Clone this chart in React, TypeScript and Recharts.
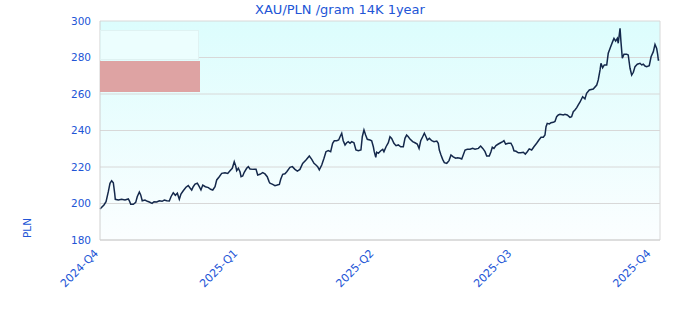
import { LineChart, Line, XAxis, YAxis, CartesianGrid, ReferenceLine } from "recharts";

// days since 2024-10-01
const days = [
  0, 2.6, 4.0, 5.5, 6.6, 7.7, 8.8, 9.7, 10.1, 12.1,
  14.3, 16.5, 18.7, 19.4, 20.3, 22.0, 23.6, 24.6, 26.0, 26.9,
  27.9, 29.7, 31.3, 32.6, 34.4, 35.7, 37.5, 39.2, 41.0, 42.5,
  44.1, 45.8, 46.9, 48.4, 49.8, 51.1, 52.4, 53.5, 55.0, 56.8,
  58.3, 59.5, 60.6, 61.6, 62.8, 64.3, 65.6, 66.7, 67.9, 69.6,
  71.6, 73.1, 74.5, 76.0, 77.1, 78.8, 80.4, 82.6, 84.4, 85.9,
  87.4, 88.7, 89.7, 90.3, 91.4, 92.5, 93.2, 94.3, 95.3, 96.9,
  98.0, 99.1, 101.3, 103.1, 104.2, 105.7, 107.5, 109.0, 110.5, 111.7,
  112.3, 114.1, 115.6, 117.1, 118.5, 119.4, 120.7, 122.2, 123.4, 125.5,
  127.1, 128.8, 130.4, 132.1, 133.9, 136.1, 138.3, 139.9, 141.4, 142.7,
  143.8, 144.9, 146.5, 148.0, 149.3, 150.8, 152.4, 153.7, 154.8, 156.4,
  157.7, 158.6, 159.7, 160.7, 161.9, 163.0, 164.0, 165.2, 166.3, 167.8,
  169.1, 170.7, 172.4, 173.3, 174.4, 175.5, 176.6, 178.4, 179.5, 180.6,
  181.2, 182.2, 182.8, 183.9, 185.5, 186.8, 187.6, 189.0, 190.5, 191.6,
  192.7, 194.2, 195.6, 197.1, 198.7, 200.4, 201.5, 202.6, 203.7, 204.8,
  206.6, 208.1, 209.6, 210.8, 211.9, 213.2, 214.3, 215.4, 216.3, 217.6,
  219.2, 220.7, 222.5, 223.5, 224.2, 225.3, 226.4, 227.5, 229.1, 230.6,
  231.9, 233.4, 235.0, 236.3, 237.9, 239.0, 240.0, 241.2, 242.7, 244.5,
  246.2, 247.8, 250.0, 251.5, 252.9, 254.4, 255.5, 257.2, 258.3, 259.2,
  260.3, 261.6, 263.2, 264.7, 266.1, 266.9, 268.0, 269.8, 271.5, 272.7,
  273.5, 274.9, 276.4, 278.0, 279.7, 281.0, 282.3, 283.6, 285.2, 286.7,
  288.5, 290.0, 291.4, 292.9, 294.0, 294.7, 295.5, 296.9, 298.0, 299.5,
  300.6, 301.7, 302.8, 303.9, 306.1, 307.2, 308.7, 310.5, 311.6, 312.7,
  313.8, 315.0, 316.0, 317.1, 318.9, 320.4, 321.5, 323.3, 325.9, 328.2,
  329.2, 330.4, 331.0, 332.1, 333.2, 334.8, 335.8, 337.4, 338.7, 339.6,
  340.7, 341.8, 342.4, 343.6, 344.2, 345.1, 346.2, 348.0, 349.0, 350.2,
  351.3, 352.4, 353.5, 355.0, 356.8, 357.9, 359.0, 360.1, 361.2, 362.9,
  364.1, 365.6, 366.7, 367.8, 368.5, 368.9, 369.5,
];

// PLN per gram of 14K gold
const prices = [
  197.0, 199.2, 201.0, 206.5, 211.1, 212.5, 211.4, 205.6, 202.3, 201.9,
  202.3, 201.9, 202.5, 201.5, 199.6, 199.6, 200.6, 203.7, 206.3, 204.7,
  201.5, 201.9, 201.2, 200.8, 200.1, 201.0, 200.8, 201.5, 201.2, 201.9,
  201.5, 201.4, 203.7, 205.9, 204.5, 205.6, 202.3, 205.2, 207.0, 208.9,
  209.8, 208.5, 207.4, 209.2, 210.6, 211.1, 209.2, 207.4, 210.1, 209.2,
  208.7, 207.8, 207.4, 209.2, 212.9, 214.7, 216.5, 216.9, 216.5, 218.0,
  219.3, 222.9, 220.5, 218.0, 219.3, 217.4, 214.7, 215.1, 217.1, 219.3,
  220.2, 218.9, 218.7, 218.7, 215.6, 216.0, 216.9, 216.2, 214.7, 212.0,
  211.1, 210.5, 209.8, 210.1, 210.5, 213.3, 216.0, 216.3, 217.4, 219.8,
  220.2, 218.7, 217.8, 218.7, 222.0, 223.8, 226.0, 224.2, 222.0, 221.1,
  220.2, 218.4, 221.1, 224.8, 228.4, 229.0, 228.4, 233.0, 234.4, 234.4,
  234.8, 236.6, 238.5, 234.4, 232.1, 233.3, 233.9, 233.0, 233.9, 233.3,
  229.3, 228.9, 229.3, 236.6, 240.3, 237.5, 235.2, 234.8, 234.4, 231.1,
  228.4, 225.3, 228.1, 227.5, 228.9, 229.7, 228.4, 231.1, 233.3, 236.6,
  235.7, 233.0, 231.7, 232.1, 231.1, 231.1, 235.7, 237.5, 236.6, 235.3,
  233.9, 233.3, 232.6, 230.2, 234.4, 236.6, 238.5, 236.6, 234.8, 235.7,
  234.4, 233.9, 234.2, 233.0, 229.3, 226.6, 224.2, 222.4, 222.0, 223.5,
  226.6, 225.6, 224.8, 225.1, 224.8, 224.4, 226.6, 229.3, 229.7, 229.7,
  230.2, 229.7, 230.2, 231.5, 230.2, 228.4, 226.0, 226.0, 228.4, 230.8,
  230.2, 231.7, 232.6, 233.3, 233.9, 234.4, 232.6, 233.0, 233.0, 231.1,
  228.9, 228.6, 227.8, 227.8, 228.1, 227.1, 228.4, 229.9, 229.3, 231.1,
  233.0, 234.8, 236.3, 236.3, 237.5, 242.1, 243.9, 243.6, 244.3, 244.5,
  245.0, 247.6, 248.5, 248.9, 248.5, 248.9, 248.5, 247.2, 247.6, 250.3,
  251.2, 252.5, 254.0, 255.5, 258.5, 257.3, 260.4, 262.2, 262.7, 264.9,
  267.7, 273.2, 276.8, 274.4, 275.9, 275.9, 282.3, 285.9, 288.7, 290.5,
  289.0, 290.5, 287.8, 296.0, 288.7, 279.6, 281.8, 281.8, 281.4, 274.1,
  270.4, 271.9, 275.0, 276.3, 276.8, 275.9, 276.3, 275.3, 275.0, 275.5,
  280.4, 283.2, 287.2, 285.0, 281.4, 278.6, 278.6,
];

const quarterDays = [0, 92, 182, 273, 365];
const quarterLabels = ["2024-Q4", "2025-Q1", "2025-Q2", "2025-Q3", "2025-Q4"];
const priceTicks = [180, 200, 220, 240, 260, 280, 300];

const blue = "#2255d6";
const font = "'DejaVu Sans', sans-serif";

const data = days.map((d, i) => ({ day: d, price: prices[i] }));

function QuarterTick(props: any) {
  const { x, y, payload } = props;
  const idx = quarterDays.indexOf(payload.value);
  const tx = x - 1;
  const ty = y + 6;
  return (
    <text
      x={tx}
      y={ty}
      transform={`rotate(-45 ${tx} ${ty})`}
      textAnchor="end"
      fill={blue}
      fontSize={11}
      fontFamily={font}
    >
      {quarterLabels[idx]}
    </text>
  );
}

export default function App() {
  return (
    <div style={{ position: "absolute", left: 0, top: 0, width: 680, height: 320, background: "#fff" }}>
      <div
        style={{
          position: "absolute",
          left: 0,
          width: 680,
          top: 2,
          textAlign: "center",
          color: blue,
          fontFamily: font,
          fontSize: 13,
        }}
      >
        XAU/PLN /gram 14K 1year
      </div>
      <LineChart
        width={680}
        height={320}
        data={data}
        margin={{ top: 21, right: 20, bottom: 5, left: 40 }}
      >
        <defs>
          <linearGradient id="plotBg" x1="0" y1="0" x2="0" y2="1">
            <stop offset="0%" stopColor="#dcfdfd" />
            <stop offset="100%" stopColor="#fbfeff" />
          </linearGradient>
        </defs>
        <CartesianGrid
          vertical={false}
          stroke="#d8d8d8"
          fill="url(#plotBg)"
          fillOpacity={1}
        />
        <XAxis
          dataKey="day"
          type="number"
          domain={[0, 370]}
          ticks={quarterDays}
          tick={<QuarterTick />}
          tickLine={false}
          axisLine={{ stroke: "#d0d0d0" }}
          height={75}
          interval={0}
        />
        <YAxis
          type="number"
          domain={[180, 300]}
          ticks={priceTicks}
          tickLine={false}
          axisLine={{ stroke: "#d0d0d0" }}
          tick={{ fill: blue, fontSize: 10.5, fontFamily: font }}
          tickMargin={3}
          width={60}
          interval={0}
        />
        <ReferenceLine x={370} stroke="#d8d8d8" />
        <Line
          type="linear"
          dataKey="price"
          stroke="#14284b"
          strokeWidth={1.5}
          dot={false}
          isAnimationActive={false}
        />
      </LineChart>
      <div
        style={{
          position: "absolute",
          left: 100,
          top: 30,
          width: 99,
          height: 30,
          background: "#ecfefe",
          boxSizing: "border-box",
          border: "1px solid #dff2f2",
        }}
      />
      <div
        style={{
          position: "absolute",
          left: 100,
          top: 61,
          width: 100,
          height: 31,
          background: "#dea3a3",
        }}
      />
      <div
        style={{
          position: "absolute",
          left: 27,
          top: 228,
          transform: "translate(-50%, -50%) rotate(-90deg)",
          color: blue,
          fontFamily: font,
          fontSize: 10.5,
          whiteSpace: "nowrap",
        }}
      >
        PLN
      </div>
    </div>
  );
}
